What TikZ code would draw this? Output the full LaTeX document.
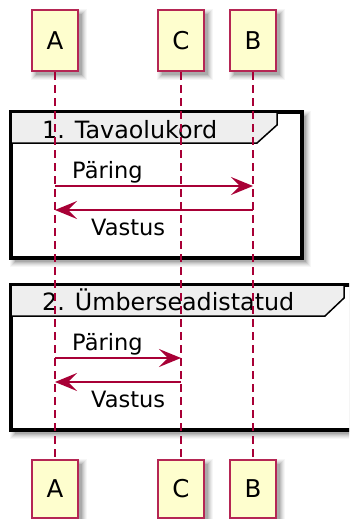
\documentclass[tikz,border=0pt]{standalone}
\usepackage{fontspec}
\setmainfont{DejaVu Sans}
\usetikzlibrary{arrows.meta}
\definecolor{lifered}{HTML}{A80036}
\definecolor{partfill}{HTML}{FEFECE}
\definecolor{headgray}{HTML}{EEEEEE}
% soft drop shadow below and right of a box given by its corners
\newcommand\softbox[4]{%
  \foreach \d/\o in {5/0.035,4/0.045,3/0.055,2/0.065,1/0.08,0/0.1}{%
    \fill[black,opacity=\o] (#1+4-\d,#2+4-\d) rectangle (#3+4+\d,#4+4+\d);}}
\begin{document}
\begin{tikzpicture}[x=1pt,y=-1pt,
  part/.style={draw=lifered!85!white,fill=partfill,line width=2.4pt,minimum width=46pt,inner sep=0pt,
    font=\fontsize{24.5}{30}\selectfont},
  life/.style={draw=lifered,line width=1.3pt,dash pattern=on 8pt off 5pt},
  msg/.style={draw=lifered,line width=1.6pt,-{Stealth[length=22pt,width=18pt,inset=9pt]}},
  framebox/.style={draw=black,line width=3.5pt,fill=white},
  headbox/.style={draw=black,line width=1.5pt,fill=headgray},
  lbl/.style={anchor=base west,inner sep=0pt,font=\fontsize{22.5}{27}\selectfont},
  ttl/.style={anchor=base west,inner sep=0pt,font=\fontsize{23.8}{28}\selectfont}]
\clip (0,0) rectangle (349,519);
\fill[white] (0,0) rectangle (349,519);

% shadows
\softbox{32}{10}{78}{71}
\softbox{158}{10}{204}{71}
\softbox{230}{10}{276}{71}
\softbox{32}{460}{78}{518}
\softbox{158}{460}{204}{518}
\softbox{230}{460}{276}{518}
\softbox{11}{112}{302}{258}
\softbox{11}{285}{370}{430}

% group 1
\draw[framebox] (11,112) rectangle (302,258);
\draw[headbox] (11,112) -- (277,112) -- (277,125) -- (257,143) -- (11,143) -- cycle;
\node[ttl] (t1) at (42,138) {1. Tavaolukord};

% group 2
\draw[framebox] (11,285) rectangle (370,430);
\draw[headbox] (11,285) -- (344,285) -- (344,298) -- (325,316) -- (11,316) -- cycle;
\node[ttl] (t2) at (42,310) {2. Ümberseadistatud};

% participants
\node[part,minimum height=61pt] (pA) at (55,40.5) {A};
\node[part,minimum height=61pt] (pC) at (181,40.5) {C};
\node[part,minimum height=61pt] (pB) at (253,40.5) {B};
\node[part,minimum height=58pt] (qA) at (55,489) {A};
\node[part,minimum height=58pt] (qC) at (181,489) {C};
\node[part,minimum height=58pt] (qB) at (253,489) {B};

% lifelines
\draw[life] (pA) -- (qA);
\draw[life] (pC) -- (qC);
\draw[life] (pB) -- (qB);

% messages, group 1
\coordinate (a1) at (55,186);
\coordinate (b1) at (253,186);
\coordinate (a2) at (55,210);
\coordinate (b2) at (253,210);
\draw[msg] (a1) -- (b1);
\draw[msg] (b2) -- (a2);
\node[lbl] (m1) at (72,178) {Päring};
\node[lbl] (m2) at (91,235) {Vastus};

% messages, group 2
\coordinate (a3) at (55,358);
\coordinate (c3) at (181,358);
\coordinate (a4) at (55,382);
\coordinate (c4) at (181,382);
\draw[msg] (a3) -- (c3);
\draw[msg] (c4) -- (a4);
\node[lbl] (m3) at (72,350) {Päring};
\node[lbl] (m4) at (91,407) {Vastus};
\end{tikzpicture}
\end{document}
